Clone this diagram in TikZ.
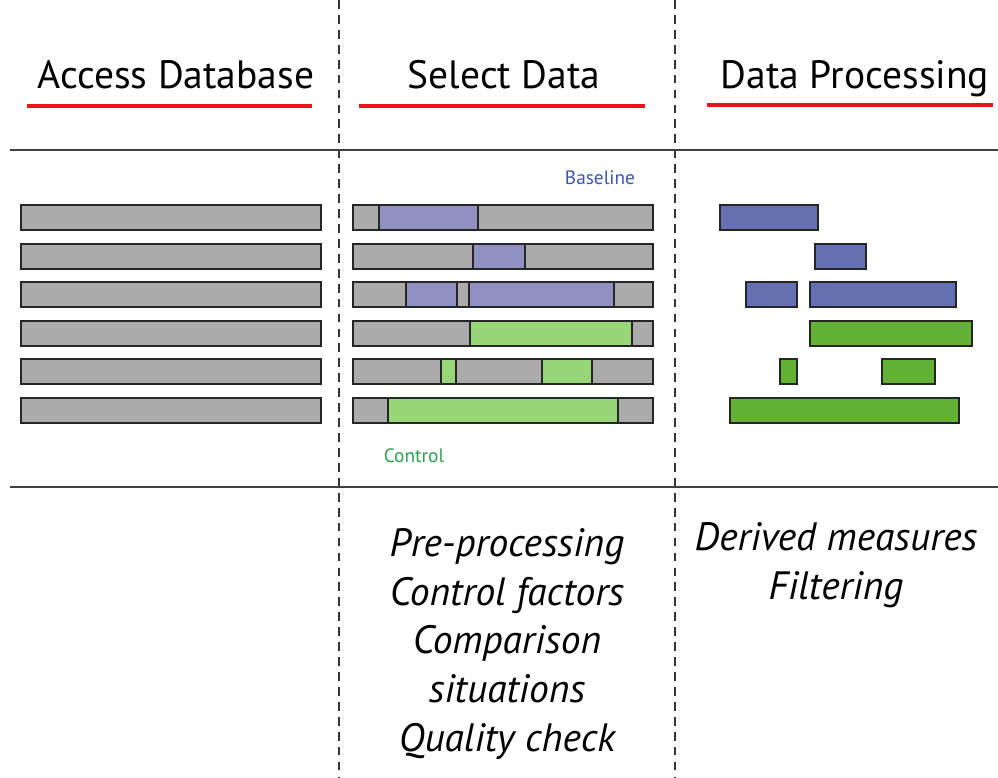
\documentclass[tikz,border=0pt]{standalone}
\usepackage{fontspec}
\setmainfont{PT Sans}
\usetikzlibrary{positioning}
\definecolor{bargrey}{HTML}{ABABAB}
\definecolor{baselav}{HTML}{9190C2}
\definecolor{ctrllight}{HTML}{98D67A}
\definecolor{baseblue}{HTML}{6570B3}
\definecolor{ctrlgreen}{HTML}{62B236}
\definecolor{labelblue}{HTML}{3B55B0}
\definecolor{labelgreen}{HTML}{2FA04F}
\definecolor{rulered}{HTML}{E8141A}
\tikzstyle{bar} = [draw=black!85, line width=0.8pt]
\tikzstyle{heading} = [font=\fontsize{22.5}{27}\selectfont, anchor=base, inner sep=0pt]
\tikzstyle{underline} = [draw=rulered, line width=2.3pt]
\tikzstyle{divider} = [draw=black!80, dash pattern=on 5pt off 3.5pt, line width=0.6pt]
\tikzstyle{rule} = [draw=black!75, line width=1.1pt]
\tikzstyle{steps} = [font=\itshape\fontsize{22.5}{27.7}\selectfont, align=center, anchor=base, inner sep=0pt]
\tikzstyle{tag} = [font=\fontsize{11}{13}\selectfont, anchor=base, inner sep=0pt]

\begin{document}
\begin{tikzpicture}[x=0.02cm, y=-0.02cm]
		\useasboundingbox (0,0) rectangle (998,778);
		% column dividers and rules
		\path [divider] (339,0) -- (339,778);
		\path [divider] (675,0) -- (675,778);
		\path [rule] (10,150) -- (998,150);
		\path [rule] (10,487) -- (998,487);

		% headings
		\node [heading] (access) at (176,88) {Access Database};
		\node [heading] (select) at (504,88) {Select Data};
		\node [heading] (proc) at (855,88) {Data Processing};
		\path [underline] (27,106) -- (312,106);
		\path [underline] (359,106) -- (645,106);
		\path [underline] (707,105) -- (993,105);

		% full records
		\foreach \y in {205,244,282,321,359,398} {
			\path [bar, fill=bargrey] (21,\y) rectangle ++(300,25);
			\path [bar, fill=bargrey] (353,\y) rectangle ++(300,25);
		}

		% selected segments
		\foreach \a/\b/\y in {379/478/205, 473/525/244, 406/457/282, 469/614/282}
			\path [bar, fill=baselav] (\a,\y) rectangle (\b,\y+25);
		\foreach \a/\b/\y in {470/632/321, 441/456/359, 542/592/359, 388/618/398}
			\path [bar, fill=ctrllight] (\a,\y) rectangle (\b,\y+25);

		% processed segments
		\foreach \a/\b/\y in {720/818/205, 815/866/244, 746/797/282, 810/956/282}
			\path [bar, fill=baseblue] (\a,\y) rectangle (\b,\y+25);
		\foreach \a/\b/\y in {810/972/321, 780/797/359, 882/935/359, 730/959/398}
			\path [bar, fill=ctrlgreen] (\a,\y) rectangle (\b,\y+25);

		\node [tag, text=labelblue] (baseline) at (600,184) {Baseline};
		\node [tag, text=labelgreen] (control) at (414,462) {Control};

		% steps (anchored on the last line)
		\node [steps] (selsteps) at (507,751) {Pre-processing\\Control factors\\Comparison\\situations\\Quality check};
		\node [steps] (procsteps) at (836,599) {Derived measures\\Filtering};
	\end{tikzpicture}
\end{document}
